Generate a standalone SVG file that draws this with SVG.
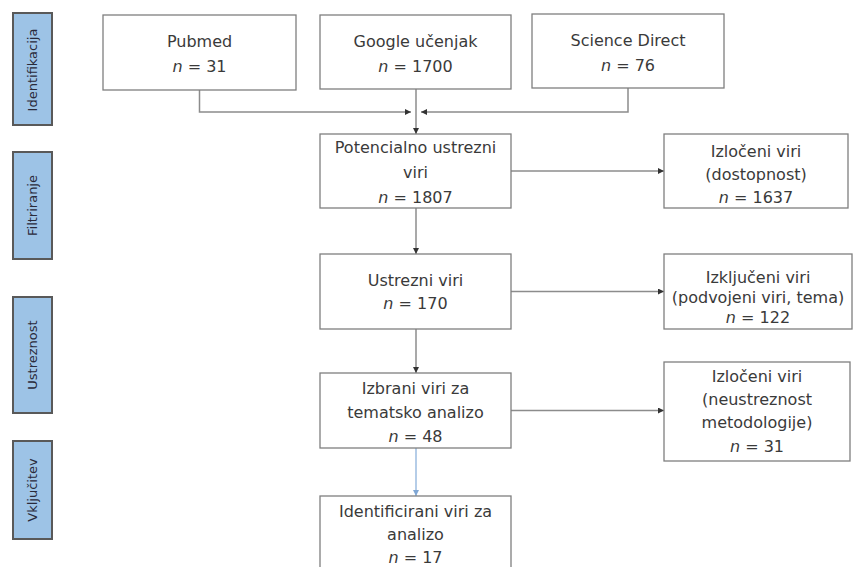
<svg xmlns="http://www.w3.org/2000/svg" width="853" height="567" viewBox="0 0 853 567">
<defs>
<style>
.box{fill:#fff;stroke:#7f7f7f;stroke-width:1.3}
.side{fill:#9dc3e6;stroke:#595959;stroke-width:2}
.t{font-family:"DejaVu Sans","Liberation Sans",sans-serif;font-size:16px;fill:#3a3a3a;text-anchor:middle}
.s{font-family:"DejaVu Sans","Liberation Sans",sans-serif;font-size:13px;fill:#2a2a3a;text-anchor:middle}
.c{fill:none;stroke:#8c8c8c;stroke-width:1.5}
.cb{fill:none;stroke:#9dbde0;stroke-width:1.5}
</style>
<marker id="a" viewBox="0 0 10 10" refX="10" refY="5" markerWidth="6" markerHeight="6" markerUnits="userSpaceOnUse" orient="auto"><path d="M0,0L10,5L0,10z" fill="#333"/></marker>
<marker id="ab" viewBox="0 0 10 10" refX="10" refY="5" markerWidth="6" markerHeight="6" markerUnits="userSpaceOnUse" orient="auto"><path d="M0,0L10,5L0,10z" fill="#7fa6d4"/></marker>
</defs>
<rect width="853" height="567" fill="#fff"/>
<g id="phases">
<g id="phase-identifikacija"><rect class="side" x="13" y="13" width="39" height="112"/><text class="s" transform="translate(37,70) rotate(-90)">Identifikacija</text></g>
<g id="phase-filtriranje"><rect class="side" x="13" y="152" width="39" height="107"/><text class="s" transform="translate(37,205.5) rotate(-90)">Filtriranje</text></g>
<g id="phase-ustreznost"><rect class="side" x="13" y="297" width="39" height="116"/><text class="s" transform="translate(37,355) rotate(-90)">Ustreznost</text></g>
<g id="phase-vkljucitev"><rect class="side" x="13" y="441" width="39" height="98"/><text class="s" transform="translate(37,490) rotate(-90)">Vključitev</text></g>
</g>
<g id="connectors">
<path class="c" d="M199.5,90V112H411" marker-end="url(#a)"/>
<path class="c" d="M628,88V112H421" marker-end="url(#a)"/>
<path class="c" d="M416,89V134" marker-end="url(#a)"/>
<path class="c" d="M416,208V254" marker-end="url(#a)"/>
<path class="c" d="M416,329V373" marker-end="url(#a)"/>
<path class="cb" d="M416,448V496" marker-end="url(#ab)"/>
<path class="c" d="M511,171H664" marker-end="url(#a)"/>
<path class="c" d="M511,291.5H664" marker-end="url(#a)"/>
<path class="c" d="M511,410.5H664" marker-end="url(#a)"/>
</g>
<g id="pubmed"><rect class="box" x="103" y="15" width="193" height="75"/><text class="t" x="199.5" y="47">Pubmed</text><text class="t" x="199.5" y="72"><tspan font-style="italic">n</tspan> = 31</text></g>
<g id="google"><rect class="box" x="320" y="15" width="191" height="74"/><text class="t" x="415.5" y="47">Google učenjak</text><text class="t" x="415.5" y="72"><tspan font-style="italic">n</tspan> = 1700</text></g>
<g id="sciencedirect"><rect class="box" x="532" y="14" width="192" height="74"/><text class="t" x="628" y="46">Science Direct</text><text class="t" x="628" y="71"><tspan font-style="italic">n</tspan> = 76</text></g>
<g id="potencialno"><rect class="box" x="320" y="134" width="191" height="74"/><text class="t" x="415.5" y="153">Potencialno ustrezni</text><text class="t" x="415.5" y="178">viri</text><text class="t" x="415.5" y="203"><tspan font-style="italic">n</tspan> = 1807</text></g>
<g id="ustrezni"><rect class="box" x="320" y="254" width="191" height="75"/><text class="t" x="415.5" y="286">Ustrezni viri</text><text class="t" x="415.5" y="309"><tspan font-style="italic">n</tspan> = 170</text></g>
<g id="izbrani"><rect class="box" x="320" y="373" width="191" height="75"/><text class="t" x="415.5" y="394">Izbrani viri za</text><text class="t" x="415.5" y="418">tematsko analizo</text><text class="t" x="415.5" y="442"><tspan font-style="italic">n</tspan> = 48</text></g>
<g id="identificirani"><rect class="box" x="320" y="496" width="191" height="80"/><text class="t" x="415.5" y="517">Identificirani viri za</text><text class="t" x="415.5" y="540">analizo</text><text class="t" x="415.5" y="563"><tspan font-style="italic">n</tspan> = 17</text></g>
<g id="izloceni1"><rect class="box" x="664" y="134" width="184" height="74"/><text class="t" x="756" y="157">Izločeni viri</text><text class="t" x="756" y="180">(dostopnost)</text><text class="t" x="756" y="203"><tspan font-style="italic">n</tspan> = 1637</text></g>
<g id="izkljuceni"><rect class="box" x="664" y="254" width="188" height="75"/><text class="t" x="758" y="283">Izključeni viri</text><text class="t" x="758" y="303">(podvojeni viri, tema)</text><text class="t" x="758" y="323"><tspan font-style="italic">n</tspan> = 122</text></g>
<g id="izloceni2"><rect class="box" x="664" y="362" width="186" height="99"/><text class="t" x="757" y="382">Izločeni viri</text><text class="t" x="757" y="405">(neustreznost</text><text class="t" x="757" y="428">metodologije)</text><text class="t" x="757" y="452"><tspan font-style="italic">n</tspan> = 31</text></g>
</svg>
